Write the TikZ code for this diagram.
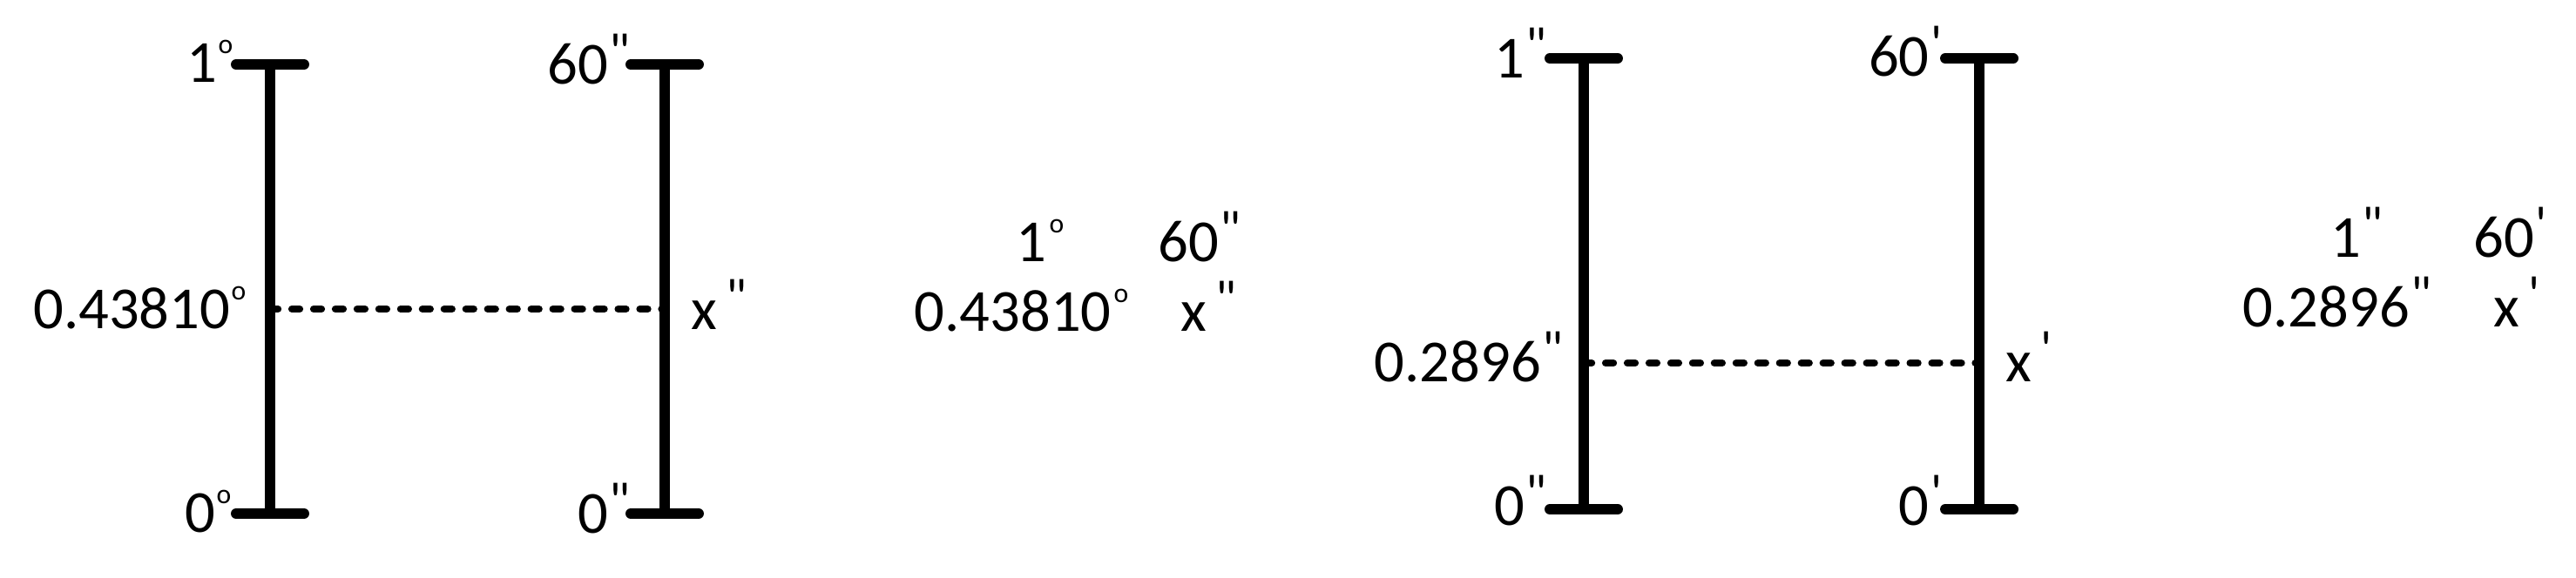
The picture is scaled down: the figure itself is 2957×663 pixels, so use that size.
\documentclass[tikz,border=0pt]{standalone}
\usepackage{fontspec}
\newfontfamily\calfont{Carlito}
\begin{document}
\begin{tikzpicture}[x=0.01cm,y=-0.01cm,
  barline/.style={line width=3.4pt},
  capline/.style={line width=3.4pt, line cap=round},
  dotline/.style={line width=2.3pt, line cap=round, dash pattern=on 2.6pt off 4.5pt},
  lbl/.style={inner sep=0pt, font=\fontsize{19.5}{23}\calfont},
  dgs/.style={inner sep=0pt, font=\fontsize{9}{9}\calfont},
  qs/.style={inner sep=0pt, font=\fontsize{17}{17}\calfont}]
% label right-aligned at #2: main #3, mark style #4, mark #5, raise #6
\newcommand{\lblR}[6]{%
  \node[#4, anchor=base east] (#1s) at #2 {\raisebox{#6}{#5}};
  \node[lbl, anchor=base east] (#1) at (#1s.base west) {#3};}
% label left-aligned at #2: main #3, gap #4, mark style #5, mark #6, raise #7
\newcommand{\lblL}[7]{%
  \node[lbl, anchor=base west] (#1) at #2 {#3};
  \node[#5, anchor=base west] (#1s) at ([xshift=#4]#1.base east) {\raisebox{#7}{#6}};}
\def\DG{o}\def\DQ{"}\def\SQ{\char"0027}
\def\RD{9.3pt}\def\RQ{4.8pt}
\useasboundingbox (0,0) rectangle (2957,663);
% ---------- left diagram ----------
\coordinate (a1t) at (310,74);  \coordinate (a1b) at (310,590);
\coordinate (a2t) at (763,74);  \coordinate (a2b) at (763,590);
\coordinate (a1m) at (310,355); \coordinate (a2m) at (763,355);
\draw[barline] (a1t) -- (a1b);
\draw[barline] (a2t) -- (a2b);
\draw[capline] (a1t) ++(-39,0) -- ++(78,0);
\draw[capline] (a1b) ++(-39,0) -- ++(78,0);
\draw[capline] (a2t) ++(-39,0) -- ++(78,0);
\draw[capline] (a2b) ++(-39,0) -- ++(78,0);
\draw[dotline] (a1m) -- (a2m);
\lblR{la1t}{(268,94)}{1}{dgs}{\DG}{\RD}
\lblR{la1b}{(266,611)}{0}{dgs}{\DG}{\RD}
\lblR{la1m}{(283,377)}{0.43810}{dgs}{\DG}{\RD}
\lblR{la2t}{(724,96)}{60}{qs}{\DQ}{\RQ}
\lblR{la2b}{(724,612)}{0}{qs}{\DQ}{\RQ}
\lblL{la2m}{(793,378)}{x}{2.5pt}{qs}{\DQ}{\RQ}
% ---------- middle text ----------
\lblL{t1}{(1166,300)}{1}{0.5pt}{dgs}{\DG}{\RD}
\lblL{t2}{(1329,300)}{60}{0pt}{qs}{\DQ}{\RQ}
\lblL{t3}{(1049,380)}{0.43810}{0.5pt}{dgs}{\DG}{\RD}
\lblL{t4}{(1355,380)}{x}{2.5pt}{qs}{\DQ}{\RQ}
% ---------- right diagram ----------
\coordinate (b1t) at (1818,67);  \coordinate (b1b) at (1818,585);
\coordinate (b2t) at (2272,67);  \coordinate (b2b) at (2272,585);
\coordinate (b1m) at (1818,417); \coordinate (b2m) at (2272,417);
\draw[barline] (b1t) -- (b1b);
\draw[barline] (b2t) -- (b2b);
\draw[capline] (b1t) ++(-39,0) -- ++(78,0);
\draw[capline] (b1b) ++(-39,0) -- ++(78,0);
\draw[capline] (b2t) ++(-39,0) -- ++(78,0);
\draw[capline] (b2b) ++(-39,0) -- ++(78,0);
\draw[dotline] (b1m) -- (b2m);
\lblR{lb1t}{(1776,89)}{1}{qs}{\DQ}{\RQ}
\lblR{lb1b}{(1776,603)}{0}{qs}{\DQ}{\RQ}
\lblR{lb1m}{(1795,438)}{0.2896}{qs}{\DQ}{\RQ}
\lblR{lb2t}{(2230,87)}{60}{qs}{\SQ}{\RQ}
\lblR{lb2b}{(2230,603)}{0}{qs}{\SQ}{\RQ}
\lblL{lb2m}{(2302,438)}{x}{2.5pt}{qs}{\SQ}{\RQ}
% ---------- right text ----------
\lblL{u1}{(2675,295)}{1}{0pt}{qs}{\DQ}{\RQ}
\lblL{u2}{(2839,295)}{60}{0pt}{qs}{\SQ}{\RQ}
\lblL{u3}{(2574,375)}{0.2896}{0pt}{qs}{\DQ}{\RQ}
\lblL{u4}{(2862,375)}{x}{2.5pt}{qs}{\SQ}{\RQ}
\end{tikzpicture}
\end{document}
